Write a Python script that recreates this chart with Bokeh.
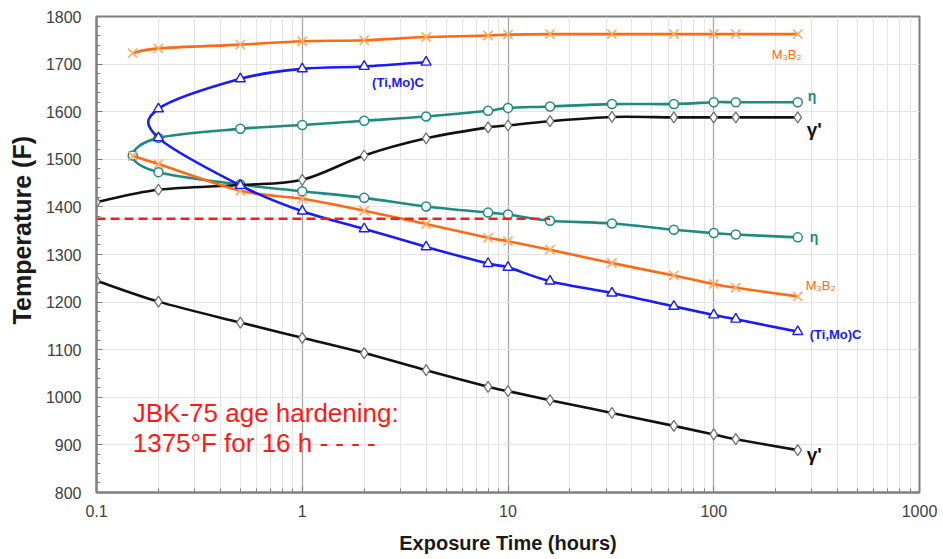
import math
from bokeh.plotting import figure
from bokeh.models import Range1d, FixedTicker, CustomJSTickFormatter, Label
from bokeh.embed import file_html
from bokeh.resources import INLINE

# ---- phase boundary data (exposure time in hours, temperature in F) ----
hours_upper_m3b2 = [0.15, 0.2, 0.5, 1, 2, 4, 8, 10, 16, 32, 64, 100, 128, 256]
temp_upper_m3b2 = [1723, 1733, 1741, 1748, 1750, 1757, 1760, 1762, 1763, 1763, 1763, 1763, 1763, 1763]
hours_lower_m3b2 = [0.15, 0.2, 0.5, 1, 2, 4, 8, 10, 16, 32, 64, 100, 128, 256]
temp_lower_m3b2 = [1507, 1490, 1434, 1417, 1392, 1364, 1335, 1328, 1310, 1282, 1256, 1238, 1230, 1212]

# (Ti,Mo)C: C-curve, upper branch then nose then lower branch
hours_timoc_upper = [0.2, 0.5, 1, 2, 4]
temp_timoc_upper = [1606, 1669, 1690, 1695, 1704]
hours_timoc_lower = [0.2, 0.5, 1, 2, 4, 8, 10, 16, 32, 64, 100, 128, 256]
temp_timoc_lower = [1545, 1445, 1391, 1354, 1316, 1281, 1273, 1244, 1219, 1191, 1173, 1164, 1138]

# eta: C-curve with nose at 0.15 h
hours_eta_upper = [0.2, 0.5, 1, 2, 4, 8, 10, 16, 32, 64, 100, 128, 256]
temp_eta_upper = [1545, 1564, 1572, 1581, 1590, 1602, 1608, 1611, 1616, 1616, 1620, 1620, 1620]
hours_eta_nose = [0.15]
temp_eta_nose = [1508]
hours_eta_lower = [0.2, 0.5, 1, 2, 4, 8, 10, 16, 32, 64, 100, 128, 256]
temp_eta_lower = [1473, 1447, 1433, 1419, 1401, 1388, 1384, 1371, 1365, 1352, 1345, 1342, 1336]

# gamma prime: solvus (upper) and start (lower)
hours_gp_upper = [0.1, 0.2, 0.5, 1, 2, 4, 8, 10, 16, 32, 64, 100, 128, 256]
temp_gp_upper = [1410, 1436, 1446, 1457, 1508, 1544, 1567, 1571, 1580, 1589, 1588, 1588, 1588, 1588]
hours_gp_lower = [0.1, 0.2, 0.5, 1, 2, 4, 8, 10, 16, 32, 64, 100, 128, 256]
temp_gp_lower = [1245, 1201, 1157, 1125, 1093, 1057, 1022, 1013, 994, 967, 940, 922, 912, 889]

# age hardening treatment
aging_temp_f = 1375
aging_start_h = 0.1
aging_time_h = 16

x_ticks = [0.1, 1, 10, 100, 1000]
y_ticks = list(range(800, 1801, 100))

FONT = "Liberation Sans"
ORANGE = "#ff6a12"
ORANGE_MK = "#f8ae6a"
BLUE = "#1a1aff"
TEAL = "#1f8a80"
BLACK = "#111111"

FRAME_W = 823
FRAME_H = 476

p = figure(width=943, height=559, x_axis_type="log",
           x_range=Range1d(0.1, 1000), y_range=Range1d(800, 1800),
           output_backend="svg", toolbar_location=None,
           min_border_left=96, min_border_right=24,
           min_border_top=16, min_border_bottom=67)
p.background_fill_color = "white"
p.border_fill_color = "white"
p.outline_line_color = "#7f7f7f"
p.outline_line_width = 2

# axes
minor_x = [m * d for d in (0.1, 1, 10, 100) for m in range(2, 10)]
p.xaxis.ticker = FixedTicker(ticks=x_ticks, minor_ticks=minor_x)
p.xaxis.formatter = CustomJSTickFormatter(code="return tick.toString();")
p.yaxis.ticker = FixedTicker(ticks=y_ticks, minor_ticks=list(range(800, 1801, 20)))
for ax in (p.xaxis[0], p.yaxis[0]):
    ax.axis_line_color = "#7f7f7f"
    ax.axis_line_width = 2
    ax.major_tick_in = 6
    ax.major_tick_out = 0
    ax.minor_tick_in = 4
    ax.minor_tick_out = 0
    ax.major_tick_line_color = "#7f7f7f"
    ax.minor_tick_line_color = "#7f7f7f"
    ax.major_label_text_font = FONT
    ax.major_label_text_font_size = "16px"
    ax.major_label_text_color = "#404040"
p.xaxis.major_label_standoff = 12
p.yaxis.major_label_standoff = 15

p.xaxis.axis_label = "Exposure Time (hours)"
p.xaxis.axis_label_standoff = 12
# leading no-break spaces lift the rotated title a little above the frame centre
p.yaxis.axis_label = "\u00a0" * 7 + "Temperature (F)"
p.yaxis.axis_label_standoff = 7
for ax in (p.xaxis[0], p.yaxis[0]):
    ax.axis_label_text_font = FONT
    ax.axis_label_text_font_style = "bold"
    ax.axis_label_text_color = "#1a1a1a"
p.xaxis.axis_label_text_font_size = "20px"
p.yaxis.axis_label_text_font_size = "25px"

p.xgrid.grid_line_color = "#a6a6a6"
p.xgrid.grid_line_width = 1.3
p.xgrid.minor_grid_line_color = "#e4e4e4"
p.ygrid.grid_line_color = "#e4e4e4"


def smooth_curve(xs, ys, color, width=2.6):
    """Draw a smoothed line through the points (cubic Bezier segments,
    tangents computed in screen-proportional log-x / linear-y space)."""
    sx = FRAME_W / 4.0
    sy = FRAME_H / 1000.0
    u = [math.log10(x) * sx for x in xs]
    v = [y * sy for y in ys]
    n = len(u)
    x0, y0, x1, y1, cx0, cy0, cx1, cy1 = ([] for _ in range(8))
    for i in range(n - 1):
        a = i - 1 if i > 0 else i
        d = i + 2 if i + 2 < n else i + 1
        c1u = u[i] + (u[i + 1] - u[a]) / 6.0
        c1v = v[i] + (v[i + 1] - v[a]) / 6.0
        c2u = u[i + 1] - (u[d] - u[i]) / 6.0
        c2v = v[i + 1] - (v[d] - v[i]) / 6.0
        x0.append(xs[i]); y0.append(ys[i])
        x1.append(xs[i + 1]); y1.append(ys[i + 1])
        cx0.append(10 ** (c1u / sx)); cy0.append(c1v / sy)
        cx1.append(10 ** (c2u / sx)); cy1.append(c2v / sy)
    p.bezier(x0=x0, y0=y0, x1=x1, y1=y1, cx0=cx0, cy0=cy0, cx1=cx1, cy1=cy1,
             line_color=color, line_width=width)


# eta
eta_x = hours_eta_upper[::-1] + hours_eta_nose + hours_eta_lower
eta_y = temp_eta_upper[::-1] + temp_eta_nose + temp_eta_lower
smooth_curve(eta_x, eta_y, TEAL)
p.scatter(eta_x, eta_y, marker="circle", size=9, fill_color="white",
          line_color=TEAL, line_width=1.5)

# gamma prime
smooth_curve(hours_gp_upper, temp_gp_upper, BLACK)
smooth_curve(hours_gp_lower, temp_gp_lower, BLACK)
p.scatter(hours_gp_upper + hours_gp_lower, temp_gp_upper + temp_gp_lower,
          marker="diamond", size=11, fill_color="white", line_color="#707070",
          line_width=1.3)

# M3B2
smooth_curve(hours_upper_m3b2, temp_upper_m3b2, ORANGE)
smooth_curve(hours_lower_m3b2, temp_lower_m3b2, ORANGE)
p.scatter(hours_upper_m3b2 + hours_lower_m3b2, temp_upper_m3b2 + temp_lower_m3b2,
          marker="x", size=13, line_color=ORANGE_MK, line_width=1.7)

# (Ti,Mo)C
timoc_x = hours_timoc_upper[::-1] + hours_timoc_lower
timoc_y = temp_timoc_upper[::-1] + temp_timoc_lower
smooth_curve(timoc_x, timoc_y, BLUE)
p.scatter(timoc_x, timoc_y, marker="triangle", size=10, fill_color="white",
          line_color=BLUE, line_width=1.4)

# aging treatment line
p.line([aging_start_h, aging_time_h], [aging_temp_f, aging_temp_f],
       line_color="#ff1a1a", line_width=2.5, line_dash="9 5")


def tag(x, y, text, color, size, dx, dy, bold=True, align="left"):
    p.add_layout(Label(x=x, y=y, x_offset=dx, y_offset=dy, text=text,
                       text_color=color, text_font=FONT,
                       text_font_size=size, text_align=align,
                       text_baseline="middle",
                       text_font_style="bold" if bold else "normal"))


tag(hours_upper_m3b2[-1], temp_upper_m3b2[-1], "M\u2083B\u2082", ORANGE, "13px", -26, -20, bold=False)
tag(hours_eta_upper[-1], temp_eta_upper[-1], "\u03b7", TEAL, "14px", 10, 6)
tag(hours_gp_upper[-1], temp_gp_upper[-1], "\u03b3'", BLACK, "19px", 9, -12)
tag(hours_eta_lower[-1], temp_eta_lower[-1], "\u03b7", TEAL, "14px", 12, 0)
tag(hours_lower_m3b2[-1], temp_lower_m3b2[-1], "M\u2083B\u2082", ORANGE, "13px", 8, 11, bold=False)
tag(hours_timoc_lower[-1], temp_timoc_lower[-1], "(Ti,Mo)C", BLUE, "13px", 12, -3)
tag(hours_timoc_upper[-1], temp_timoc_upper[-1], "(Ti,Mo)C", BLUE, "13px", -54, -20)
tag(hours_gp_lower[-1], temp_gp_lower[-1], "\u03b3'", BLACK, "19px", 9, -4)

# treatment note
for yy, line in ((966, "JBK-75 age hardening:"), (903, "1375\u00b0F for 16 h - - - -")):
    p.add_layout(Label(x=0.15, y=yy, text=line, text_font=FONT,
                       text_font_size="26px", text_color="#ff1a1a",
                       text_baseline="middle"))

open("out.html", "w").write(file_html(p, INLINE))
